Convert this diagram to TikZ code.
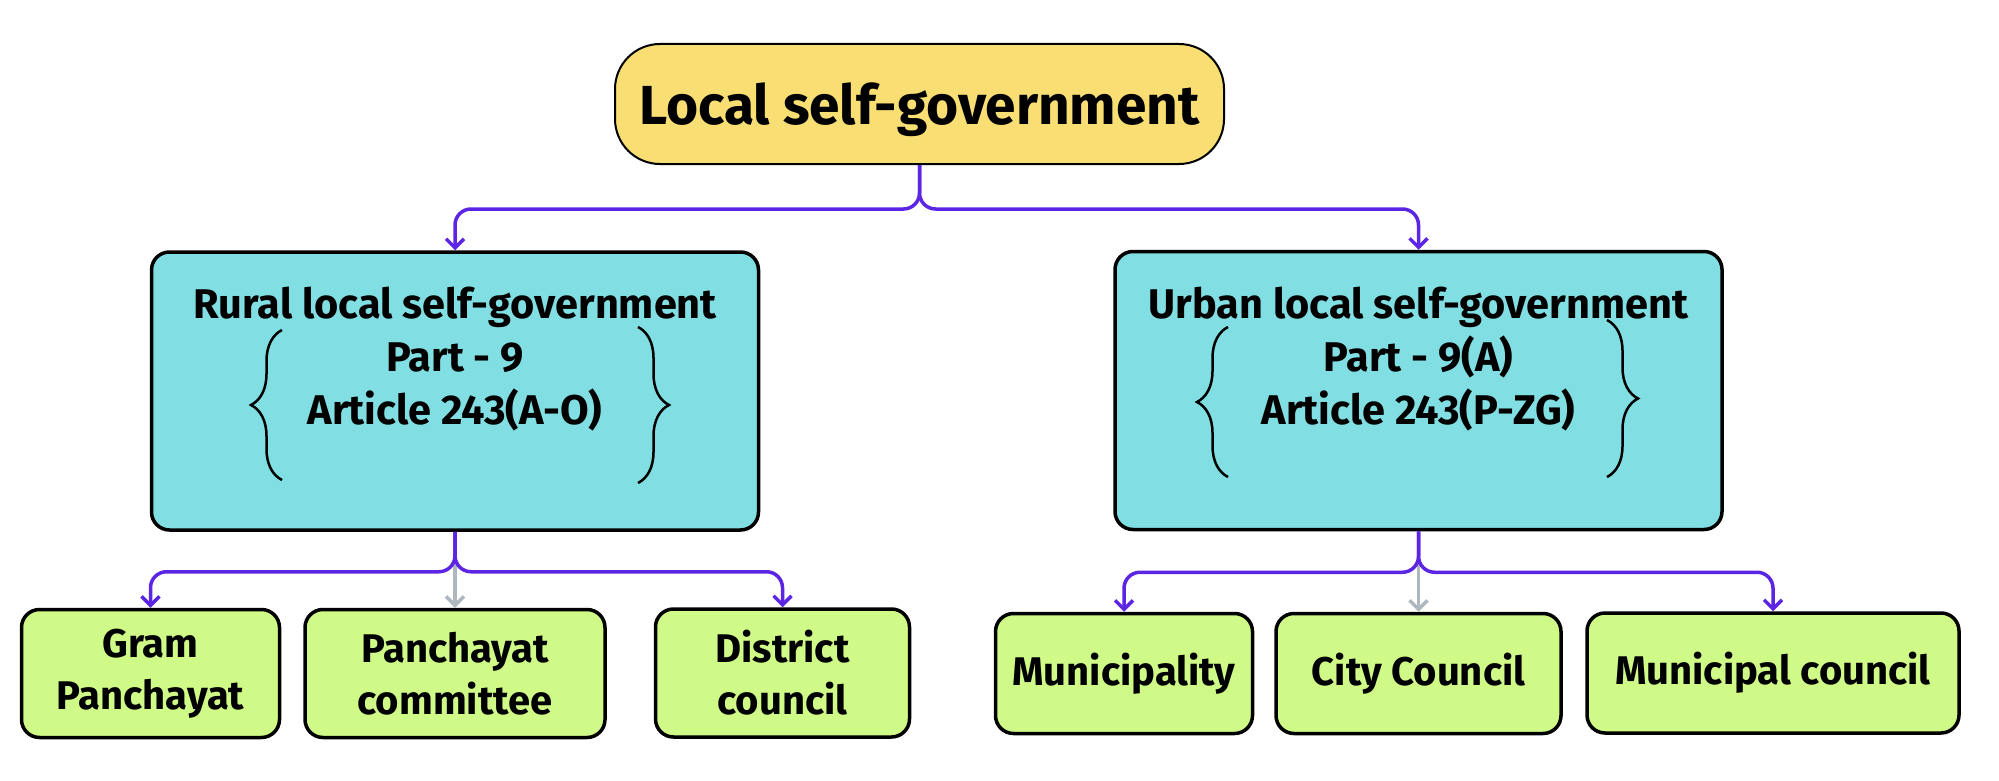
\documentclass[tikz,border=0pt]{standalone}
\usepackage{fontspec}
\setmainfont{Fira Sans}
\usetikzlibrary{arrows.meta,decorations.pathreplacing,calc}
\definecolor{govyellow}{HTML}{F9DE74}
\definecolor{govblue}{HTML}{81DFE3}
\definecolor{govgreen}{HTML}{D0FA87}
\definecolor{linkpurple}{HTML}{5B25E3}
\definecolor{linkgray}{HTML}{AEB7BE}
\begin{document}
\begin{tikzpicture}[
                x=1pt, y=-1pt,
                rootbox/.style={draw, line width=2pt, fill=govyellow, rounded corners=45pt,
                    minimum width=609pt, minimum height=120pt, text depth=0pt,
                    font=\bfseries\fontsize{55}{60}\selectfont},
                partbox/.style={draw, line width=3.5pt, fill=govblue, rounded corners=18pt,
                    minimum width=607pt, minimum height=278pt},
                parttext/.style={inner sep=0pt, align=center, anchor=north,
                    font=\bfseries\fontsize{41.5}{53}\selectfont},
                leafbox/.style={draw, line width=3.5pt, fill=govgreen, rounded corners=18pt,
                    minimum height=128pt, align=center, inner sep=2pt,
                    font=\bfseries\fontsize{40}{52}\selectfont},
                link/.style={draw=linkpurple, line width=3.5pt, rounded corners=16pt,
                    -{Straight Barb[length=9pt, width=18pt]}},
                graylink/.style={draw=linkgray, line width=3.5pt,
                    -{Straight Barb[length=9pt, width=18pt]}},
                curly/.style={draw, line width=2.5pt, decorate,
                    decoration={brace, amplitude=31pt}},
            ]
            \useasboundingbox (0,0) rectangle (1999,781);
            \node[rootbox] (root) at (919.5,104) {Local self-government};
            \node[partbox] (rural) at (455,391) {};
            \node[parttext] (ruraltext) at ($(rural.north)+(0,37)$)
                {Rural local self-government\\Part - 9\\Article 243(A-O)};
            \node[partbox] (urban) at (1418.5,390.5) {};
            \node[parttext] (urbantext) at ($(urban.north)+(0,37)$)
                {Urban local self-government\\Part - 9(A)\\Article 243(P-ZG)};
            \draw[curly] (282,480) -- (282,330);
            \draw[curly] (638,327) -- (638,483);
            \draw[curly] (1228,477) -- (1228,327);
            \draw[curly] (1607,320) -- (1607,477);
            \node[leafbox, minimum width=258pt] (gram) at (150.5,673.5) {Gram\\Panchayat};
            \node[leafbox, minimum width=300pt] (samiti) at (455,673.5) {Panchayat\\committee};
            \node[leafbox, minimum width=254pt] (district) at (782.5,673) {District\\council};
            \node[leafbox, minimum width=257pt, minimum height=120pt] (municipality) at (1124,673.5) {Municipality};
            \node[leafbox, minimum width=285pt, minimum height=120pt] (city) at (1418.5,673.5) {City Council};
            \node[leafbox, minimum width=372pt, minimum height=120pt] (council) at (1773,673) {Municipal council};
            \draw[link] (root.south) -- ++(0,44) -| (rural.north);
            \draw[link] (root.south) -- ++(0,44) -| (urban.north);
            \draw[graylink] (rural.south) -- (samiti.north);
            \draw[link] (rural.south) -- ++(0,40) -| (gram.north);
            \draw[link] (rural.south) -- ++(0,40) -| (district.north);
            \draw[graylink] (urban.south) -- (city.north);
            \draw[link] (urban.south) -- ++(0,41) -| (municipality.north);
            \draw[link] (urban.south) -- ++(0,41) -| (council.north);
\end{tikzpicture}
\end{document}
